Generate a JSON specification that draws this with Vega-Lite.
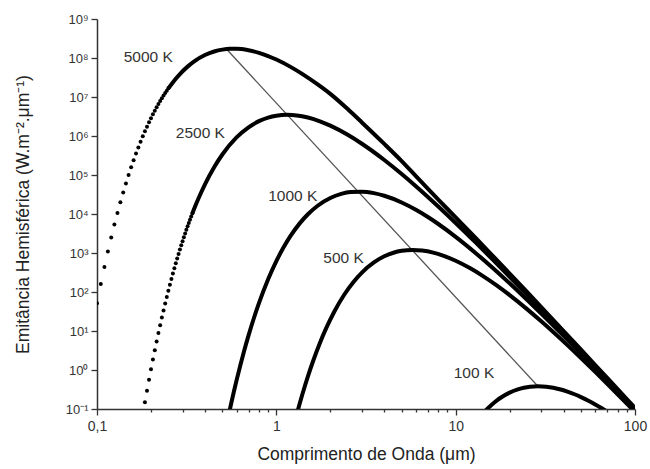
{
  "$schema": "https://vega.github.io/schema/vega-lite/v6.json",
  "width": 538,
  "height": 390,
  "autosize": {"type": "none"},
  "padding": {"left": 97, "top": 19, "right": 15, "bottom": 60},
  "background": "white",
  "config": {"view": {"stroke": null}, "font": "Liberation Sans"},
  "datasets": {
    "wien": [{"lambda": 0.53, "E": 165000000}, {"lambda": 28.5, "E": 0.40}],
    "labels": [
      {"T": "5000 K", "lambda": 0.193, "E": 107000000},
      {"T": "2500 K", "lambda": 0.377, "E": 1220000},
      {"T": "1000 K", "lambda": 1.234, "E": 29000},
      {"T": "500 K", "lambda": 2.37, "E": 757},
      {"T": "100 K", "lambda": 12.65, "E": 0.853}
    ],
    "dots": [
      {"T": "5000 K", "lambda": 0.1, "E": 51.6},
      {"T": "5000 K", "lambda": 0.105, "E": 159.2},
      {"T": "5000 K", "lambda": 0.11, "E": 438.3},
      {"T": "5000 K", "lambda": 0.115, "E": 1094},
      {"T": "5000 K", "lambda": 0.12, "E": 2509},
      {"T": "5000 K", "lambda": 0.125, "E": 5341},
      {"T": "5000 K", "lambda": 0.13, "E": 10640},
      {"T": "5000 K", "lambda": 0.135, "E": 20000},
      {"T": "5000 K", "lambda": 0.14, "E": 35700},
      {"T": "5000 K", "lambda": 0.145, "E": 60850},
      {"T": "5000 K", "lambda": 0.15, "E": 99540},
      {"T": "5000 K", "lambda": 0.155, "E": 156900},
      {"T": "5000 K", "lambda": 0.16, "E": 239000},
      {"T": "5000 K", "lambda": 0.165, "E": 353500},
      {"T": "5000 K", "lambda": 0.17, "E": 508600},
      {"T": "5000 K", "lambda": 0.175, "E": 713700},
      {"T": "5000 K", "lambda": 0.18, "E": 978600},
      {"T": "5000 K", "lambda": 0.185, "E": 1315000},
      {"T": "5000 K", "lambda": 0.19, "E": 1732000},
      {"T": "5000 K", "lambda": 0.195, "E": 2243000},
      {"T": "5000 K", "lambda": 0.2, "E": 2859000},
      {"T": "5000 K", "lambda": 0.205, "E": 3588000},
      {"T": "5000 K", "lambda": 0.21, "E": 4444000},
      {"T": "5000 K", "lambda": 0.215, "E": 5435000},
      {"T": "5000 K", "lambda": 0.22, "E": 6568000},
      {"T": "5000 K", "lambda": 0.225, "E": 7846000},
      {"T": "5000 K", "lambda": 0.23, "E": 9283000},
      {"T": "5000 K", "lambda": 0.235, "E": 10880000},
      {"T": "5000 K", "lambda": 0.24, "E": 12640000},
      {"T": "5000 K", "lambda": 0.245, "E": 14560000},
      {"T": "5000 K", "lambda": 0.25, "E": 16650000},
      {"T": "2500 K", "lambda": 0.185, "E": 0.1491},
      {"T": "2500 K", "lambda": 0.19, "E": 0.2958},
      {"T": "2500 K", "lambda": 0.195, "E": 0.5649},
      {"T": "2500 K", "lambda": 0.2, "E": 1.041},
      {"T": "2500 K", "lambda": 0.205, "E": 1.856},
      {"T": "2500 K", "lambda": 0.21, "E": 3.211},
      {"T": "2500 K", "lambda": 0.215, "E": 5.399},
      {"T": "2500 K", "lambda": 0.22, "E": 8.844},
      {"T": "2500 K", "lambda": 0.225, "E": 14.14},
      {"T": "2500 K", "lambda": 0.23, "E": 22.09},
      {"T": "2500 K", "lambda": 0.235, "E": 33.77},
      {"T": "2500 K", "lambda": 0.24, "E": 50.62},
      {"T": "2500 K", "lambda": 0.245, "E": 74.49},
      {"T": "2500 K", "lambda": 0.25, "E": 107.8},
      {"T": "2500 K", "lambda": 0.255, "E": 153.2},
      {"T": "2500 K", "lambda": 0.26, "E": 214.6},
      {"T": "2500 K", "lambda": 0.265, "E": 296.4},
      {"T": "2500 K", "lambda": 0.27, "E": 403.6},
      {"T": "2500 K", "lambda": 0.275, "E": 542.6},
      {"T": "2500 K", "lambda": 0.28, "E": 720.2},
      {"T": "2500 K", "lambda": 0.285, "E": 945.6},
      {"T": "2500 K", "lambda": 0.29, "E": 1228},
      {"T": "2500 K", "lambda": 0.295, "E": 1578},
      {"T": "2500 K", "lambda": 0.3, "E": 2008},
      {"T": "2500 K", "lambda": 0.305, "E": 2532},
      {"T": "2500 K", "lambda": 0.31, "E": 3165},
      {"T": "2500 K", "lambda": 0.315, "E": 3923},
      {"T": "2500 K", "lambda": 0.32, "E": 4825},
      {"T": "2500 K", "lambda": 0.325, "E": 5888},
      {"T": "2500 K", "lambda": 0.33, "E": 7133},
      {"T": "2500 K", "lambda": 0.335, "E": 8585},
      {"T": "2500 K", "lambda": 0.34, "E": 10260}
    ],
    "curves": [
      {"T": "5000 K", "lambda": 0.25, "E": 16650000},
      {"T": "5000 K", "lambda": 0.27, "E": 26580000},
      {"T": "5000 K", "lambda": 0.29, "E": 38780000},
      {"T": "5000 K", "lambda": 0.32, "E": 60100000},
      {"T": "5000 K", "lambda": 0.35, "E": 82990000},
      {"T": "5000 K", "lambda": 0.4, "E": 118900000},
      {"T": "5000 K", "lambda": 0.45, "E": 146800000},
      {"T": "5000 K", "lambda": 0.5, "E": 164200000},
      {"T": "5000 K", "lambda": 0.55, "E": 172200000},
      {"T": "5000 K", "lambda": 0.6, "E": 172300000},
      {"T": "5000 K", "lambda": 0.7, "E": 158200000},
      {"T": "5000 K", "lambda": 0.8, "E": 135600000},
      {"T": "5000 K", "lambda": 0.9, "E": 112300000},
      {"T": "5000 K", "lambda": 1, "E": 91270000},
      {"T": "5000 K", "lambda": 1.2, "E": 59240000},
      {"T": "5000 K", "lambda": 1.4, "E": 38610000},
      {"T": "5000 K", "lambda": 1.7, "E": 21020000},
      {"T": "5000 K", "lambda": 2, "E": 12020000},
      {"T": "5000 K", "lambda": 2.5, "E": 4902000},
      {"T": "5000 K", "lambda": 3, "E": 2228000},
      {"T": "5000 K", "lambda": 4, "E": 627000},
      {"T": "5000 K", "lambda": 5, "E": 226600},
      {"T": "5000 K", "lambda": 6, "E": 93520},
      {"T": "5000 K", "lambda": 8, "E": 23350},
      {"T": "5000 K", "lambda": 10, "E": 8222},
      {"T": "5000 K", "lambda": 13, "E": 2367},
      {"T": "5000 K", "lambda": 16, "E": 873.6},
      {"T": "5000 K", "lambda": 20, "E": 296.8},
      {"T": "5000 K", "lambda": 25, "E": 100.1},
      {"T": "5000 K", "lambda": 30, "E": 41.0},
      {"T": "5000 K", "lambda": 40, "E": 9.966},
      {"T": "5000 K", "lambda": 50, "E": 3.312},
      {"T": "5000 K", "lambda": 60, "E": 1.344},
      {"T": "5000 K", "lambda": 70, "E": 0.626},
      {"T": "5000 K", "lambda": 80, "E": 0.3228},
      {"T": "5000 K", "lambda": 90, "E": 0.1799},
      {"T": "5000 K", "lambda": 100, "E": 0.1066},
      {"T": "2500 K", "lambda": 0.34, "E": 10260},
      {"T": "2500 K", "lambda": 0.355, "E": 16910},
      {"T": "2500 K", "lambda": 0.37, "E": 26520},
      {"T": "2500 K", "lambda": 0.4, "E": 57680},
      {"T": "2500 K", "lambda": 0.45, "E": 158300},
      {"T": "2500 K", "lambda": 0.5, "E": 335800},
      {"T": "2500 K", "lambda": 0.6, "E": 919100},
      {"T": "2500 K", "lambda": 0.7, "E": 1674000},
      {"T": "2500 K", "lambda": 0.8, "E": 2400000},
      {"T": "2500 K", "lambda": 0.9, "E": 2962000},
      {"T": "2500 K", "lambda": 1, "E": 3315000},
      {"T": "2500 K", "lambda": 1.15, "E": 3491000},
      {"T": "2500 K", "lambda": 1.3, "E": 3370000},
      {"T": "2500 K", "lambda": 1.5, "E": 2973000},
      {"T": "2500 K", "lambda": 1.75, "E": 2380000},
      {"T": "2500 K", "lambda": 2, "E": 1842000},
      {"T": "2500 K", "lambda": 2.5, "E": 1073000},
      {"T": "2500 K", "lambda": 3, "E": 632700},
      {"T": "2500 K", "lambda": 4, "E": 242600},
      {"T": "2500 K", "lambda": 5, "E": 106000},
      {"T": "2500 K", "lambda": 6, "E": 51600},
      {"T": "2500 K", "lambda": 8, "E": 15560},
      {"T": "2500 K", "lambda": 10, "E": 5890},
      {"T": "2500 K", "lambda": 13, "E": 1811},
      {"T": "2500 K", "lambda": 16, "E": 697},
      {"T": "2500 K", "lambda": 20, "E": 245.4},
      {"T": "2500 K", "lambda": 25, "E": 85.2},
      {"T": "2500 K", "lambda": 30, "E": 35.57},
      {"T": "2500 K", "lambda": 40, "E": 8.855},
      {"T": "2500 K", "lambda": 50, "E": 2.987},
      {"T": "2500 K", "lambda": 60, "E": 1.223},
      {"T": "2500 K", "lambda": 70, "E": 0.5739},
      {"T": "2500 K", "lambda": 80, "E": 0.2973},
      {"T": "2500 K", "lambda": 90, "E": 0.1663},
      {"T": "2500 K", "lambda": 100, "E": 0.0989},
      {"T": "1000 K", "lambda": 0.545, "E": 0.0781},
      {"T": "1000 K", "lambda": 0.56, "E": 0.1384},
      {"T": "1000 K", "lambda": 0.58, "E": 0.2813},
      {"T": "1000 K", "lambda": 0.6, "E": 0.5429},
      {"T": "1000 K", "lambda": 0.63, "E": 1.332},
      {"T": "1000 K", "lambda": 0.66, "E": 2.983},
      {"T": "1000 K", "lambda": 0.7, "E": 7.724},
      {"T": "1000 K", "lambda": 0.75, "E": 21.54},
      {"T": "1000 K", "lambda": 0.8, "E": 51.73},
      {"T": "1000 K", "lambda": 0.9, "E": 211.7},
      {"T": "1000 K", "lambda": 1, "E": 618.4},
      {"T": "1000 K", "lambda": 1.1, "E": 1420},
      {"T": "1000 K", "lambda": 1.2, "E": 2734},
      {"T": "1000 K", "lambda": 1.35, "E": 5748},
      {"T": "1000 K", "lambda": 1.5, "E": 9856},
      {"T": "1000 K", "lambda": 1.7, "E": 16300},
      {"T": "1000 K", "lambda": 2, "E": 25730},
      {"T": "1000 K", "lambda": 2.3, "E": 32690},
      {"T": "1000 K", "lambda": 2.6, "E": 36460},
      {"T": "1000 K", "lambda": 3, "E": 37280},
      {"T": "1000 K", "lambda": 3.5, "E": 34230},
      {"T": "1000 K", "lambda": 4, "E": 29350},
      {"T": "1000 K", "lambda": 5, "E": 19740},
      {"T": "1000 K", "lambda": 6, "E": 12810},
      {"T": "1000 K", "lambda": 7, "E": 8352},
      {"T": "1000 K", "lambda": 8, "E": 5538},
      {"T": "1000 K", "lambda": 10, "E": 2601},
      {"T": "1000 K", "lambda": 13, "E": 976.4},
      {"T": "1000 K", "lambda": 16, "E": 425.6},
      {"T": "1000 K", "lambda": 20, "E": 166.9},
      {"T": "1000 K", "lambda": 25, "E": 63.15},
      {"T": "1000 K", "lambda": 30, "E": 27.93},
      {"T": "1000 K", "lambda": 40, "E": 7.472},
      {"T": "1000 K", "lambda": 50, "E": 2.631},
      {"T": "1000 K", "lambda": 60, "E": 1.109},
      {"T": "1000 K", "lambda": 70, "E": 0.5312},
      {"T": "1000 K", "lambda": 80, "E": 0.2795},
      {"T": "1000 K", "lambda": 90, "E": 0.1583},
      {"T": "1000 K", "lambda": 100, "E": 0.0949},
      {"T": "500 K", "lambda": 1.3, "E": 0.0736},
      {"T": "500 K", "lambda": 1.35, "E": 0.1384},
      {"T": "500 K", "lambda": 1.4, "E": 0.247},
      {"T": "500 K", "lambda": 1.5, "E": 0.6885},
      {"T": "500 K", "lambda": 1.6, "E": 1.654},
      {"T": "500 K", "lambda": 1.75, "E": 4.937},
      {"T": "500 K", "lambda": 1.9, "E": 11.98},
      {"T": "500 K", "lambda": 2.1, "E": 30.74},
      {"T": "500 K", "lambda": 2.4, "E": 87.42},
      {"T": "500 K", "lambda": 2.7, "E": 183.9},
      {"T": "500 K", "lambda": 3, "E": 315.2},
      {"T": "500 K", "lambda": 3.5, "E": 574.1},
      {"T": "500 K", "lambda": 4, "E": 823},
      {"T": "500 K", "lambda": 4.5, "E": 1016},
      {"T": "500 K", "lambda": 5, "E": 1137},
      {"T": "500 K", "lambda": 5.75, "E": 1197},
      {"T": "500 K", "lambda": 6.5, "E": 1155},
      {"T": "500 K", "lambda": 7.5, "E": 1020},
      {"T": "500 K", "lambda": 8.5, "E": 856.3},
      {"T": "500 K", "lambda": 10, "E": 631.3},
      {"T": "500 K", "lambda": 12, "E": 409.9},
      {"T": "500 K", "lambda": 14, "E": 267.2},
      {"T": "500 K", "lambda": 17, "E": 145.4},
      {"T": "500 K", "lambda": 20, "E": 83.18},
      {"T": "500 K", "lambda": 25, "E": 36.35},
      {"T": "500 K", "lambda": 30, "E": 17.69},
      {"T": "500 K", "lambda": 40, "E": 5.337},
      {"T": "500 K", "lambda": 50, "E": 2.02},
      {"T": "500 K", "lambda": 60, "E": 0.8932},
      {"T": "500 K", "lambda": 70, "E": 0.4426},
      {"T": "500 K", "lambda": 80, "E": 0.2389},
      {"T": "500 K", "lambda": 90, "E": 0.138},
      {"T": "500 K", "lambda": 100, "E": 0.0841},
      {"T": "100 K", "lambda": 14.5, "E": 0.0858},
      {"T": "100 K", "lambda": 15, "E": 0.1009},
      {"T": "100 K", "lambda": 16, "E": 0.133},
      {"T": "100 K", "lambda": 17, "E": 0.1668},
      {"T": "100 K", "lambda": 18, "E": 0.2005},
      {"T": "100 K", "lambda": 20, "E": 0.2633},
      {"T": "100 K", "lambda": 22, "E": 0.3145},
      {"T": "100 K", "lambda": 24, "E": 0.351},
      {"T": "100 K", "lambda": 26, "E": 0.373},
      {"T": "100 K", "lambda": 28.8, "E": 0.383},
      {"T": "100 K", "lambda": 32, "E": 0.3728},
      {"T": "100 K", "lambda": 35, "E": 0.3503},
      {"T": "100 K", "lambda": 38, "E": 0.3211},
      {"T": "100 K", "lambda": 42, "E": 0.2793},
      {"T": "100 K", "lambda": 46, "E": 0.2386},
      {"T": "100 K", "lambda": 50, "E": 0.202},
      {"T": "100 K", "lambda": 55, "E": 0.163},
      {"T": "100 K", "lambda": 60, "E": 0.1312},
      {"T": "100 K", "lambda": 65, "E": 0.1057},
      {"T": "100 K", "lambda": 70, "E": 0.0855}
    ]
  },
  "encoding": {
    "x": {
      "field": "lambda",
      "type": "quantitative",
      "scale": {"type": "log", "domain": [0.1, 100], "nice": false},
      "axis": {
        "title": "Comprimento de Onda (μm)",
        "titleFont": "Liberation Sans",
        "titleFontSize": 17.5,
        "titleFontWeight": "normal",
        "titleColor": "#222222",
        "titlePadding": 12,
        "values": [0.1, 0.2, 0.3, 0.4, 0.5, 0.6, 0.7, 0.8, 0.9, 1, 2, 3, 4, 5, 6, 7, 8, 9, 10, 20, 30, 40, 50, 60, 70, 80, 90, 100],
        "labelExpr": "abs(log(datum.value)/LN10 - round(log(datum.value)/LN10)) < 0.001 ? (datum.value < 1 ? '0,1' : format(datum.value, 'd')) : ''",
        "labelOverlap": false,
        "labelFlush": false,
        "labelFont": "Liberation Sans",
        "labelFontSize": 14,
        "labelColor": "#333333",
        "labelPadding": 4,
        "tickSize": {"condition": {"test": "abs(log(datum.value)/LN10 - round(log(datum.value)/LN10)) < 0.001", "value": 6}, "value": 3},
        "tickColor": "#333333",
        "tickWidth": 1.3,
        "domainColor": "#333333",
        "domainWidth": 1.5,
        "grid": false
      }
    },
    "y": {
      "field": "E",
      "type": "quantitative",
      "scale": {"type": "log", "domain": [0.1, 1000000000], "nice": false},
      "axis": {
        "title": "Emitância Hemisférica (W.m⁻².μm⁻¹)",
        "titleFont": "Liberation Sans",
        "titleFontSize": 17.5,
        "titleFontWeight": "normal",
        "titleColor": "#222222",
        "titlePadding": 33,
        "values": [0.1, 1, 10, 100, 1000, 10000, 100000, 1000000, 10000000, 100000000, 1000000000],
        "labelExpr": "'10' + ['⁻¹','⁰','¹','²','³','⁴','⁵','⁶','⁷','⁸','⁹'][round(log(datum.value)/LN10)+1]",
        "labelOverlap": false,
        "labelFlush": false,
        "labelFont": "Liberation Sans",
        "labelFontSize": 13,
        "labelColor": "#333333",
        "labelPadding": 3,
        "tickSize": 6,
        "tickColor": "#333333",
        "tickWidth": 1.3,
        "domainColor": "#333333",
        "domainWidth": 1.5,
        "grid": false
      }
    }
  },
  "layer": [
    {
      "data": {"name": "wien"},
      "mark": {"type": "line", "color": "#555555", "strokeWidth": 1.3, "clip": true}
    },
    {
      "data": {"name": "curves"},
      "mark": {"type": "line", "color": "#000000", "strokeWidth": 4, "interpolate": "monotone", "clip": true},
      "encoding": {"detail": {"field": "T"}}
    },
    {
      "data": {"name": "dots"},
      "mark": {"type": "circle", "color": "#000000", "size": 16, "opacity": 1, "clip": true}
    },
    {
      "data": {"name": "labels"},
      "mark": {"type": "text", "font": "Liberation Sans", "fontSize": 15.5, "color": "#333333", "align": "center", "baseline": "middle"},
      "encoding": {"text": {"field": "T"}}
    }
  ]
}
